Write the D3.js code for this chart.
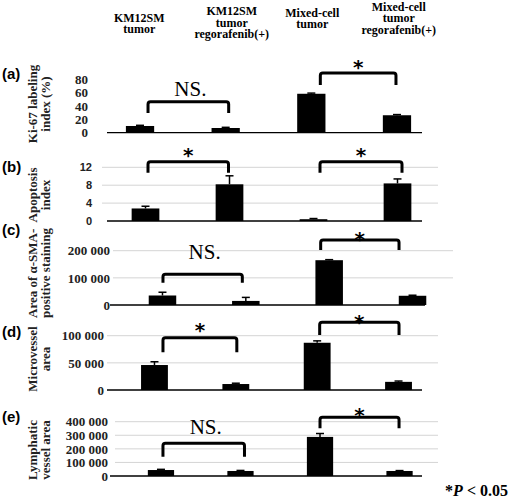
<!DOCTYPE html>
<html>
<head>
<meta charset="utf-8">
<script src="https://cdn.jsdelivr.net/npm/d3@7/dist/d3.min.js"></script>
<style>
  html, body { margin: 0; padding: 0; background: #fff; }
  svg { display: block; }
</style>
</head>
<body>
<svg id="chart" width="509" height="499"></svg>
<script>
// ---------------- DATA ----------------
const categories = ["KM12SM tumor", "KM12SM tumor regorafenib(+)", "Mixed-cell tumor", "Mixed-cell tumor regorafenib(+)"];
const categoryLines = [["KM12SM", "tumor"], ["KM12SM", "tumor", "regorafenib(+)"], ["Mixed-cell", "tumor"], ["Mixed-cell", "tumor", "regorafenib(+)"]];

const ki67Values = [10, 7, 58, 26];
const ki67Errors = [1, 1, 1, 1];
const apoptosisValues = [2.8, 8.2, 0.4, 8.4];
const apoptosisErrors = [0.5, 1.9, 0.15, 1.0];
const smaValues = [35000, 15000, 165000, 34000];
const smaErrors = [12000, 13000, 2000, 2000];
const microvesselValues = [46000, 11000, 87000, 15000];
const microvesselErrors = [6000, 1500, 3500, 1500];
const lymphaticValues = [44000, 37000, 288000, 37000];
const lymphaticErrors = [5000, 4000, 25000, 3000];

const ki67Ticks = [0, 20, 40, 60, 80];
const apoptosisTicks = [0, 4, 8, 12];
const smaTicks = [0, 100000, 200000];
const microvesselTicks = [0, 50000, 100000];
const lymphaticTicks = [0, 100000, 200000, 300000, 400000];

const panelLetters = ["(a)", "(b)", "(c)", "(d)", "(e)"];
const panelTitles = [
  ["Ki-67 labeling", "index (%)"],
  ["Apoptosis", "index"],
  ["Area of \u03b1-SMA-", "positive staining"],
  ["Microvessel", "area"],
  ["Lymphatic", "vessel area"]
];
const comparisons = [
  ["NS.", "*"],
  ["*", "*"],
  ["NS.", "*"],
  ["*", "*"],
  ["NS.", "*"]
];
const footnote = "P < 0.05";

// ---------------- LAYOUT ----------------
const svg = d3.select("#chart");
const fmt = d3.formatLocale({ decimal: ".", thousands: " ", grouping: [3], currency: ["", ""] }).format(",d");
const SERIF = "'Liberation Serif', 'Times New Roman', serif";
const SANS = "'Liberation Sans', Arial, sans-serif";

const panels = [
  { values: ki67Values, errors: ki67Errors, ticks: ki67Ticks,
    yPx: [132.7, 79], xRange: [97.2, 439.8], tickFont: SERIF, tickSize: 13, tickRight: 88,
    grid: null, axis: [107, 422], letterY: 79, titleCy: 104,
    brackets: [ { pair: [0, 1], dx: [8, 3], top: 101.7, leg: 113, labelY: 96 },
                { pair: [2, 3], dx: [9, -1], top: 73, leg: 85, labelY: 62 } ] },
  { values: apoptosisValues, errors: apoptosisErrors, ticks: apoptosisTicks,
    yPx: [221, 167.3], xRange: [103.5, 439.5], tickFont: SANS, tickSize: 11, tickRight: 92,
    grid: [102, 438], axis: [107, 422], letterY: 172, titleCy: 195,
    brackets: [ { pair: [0, 1], dx: [2.5, -1], top: 161.7, leg: 172.7, labelY: 150 },
                { pair: [2, 3], dx: [6.5, 4.5], top: 161.7, leg: 172.7, labelY: 150 } ] },
  { values: smaValues, errors: smaErrors, ticks: smaTicks,
    yPx: [305, 250.7], xRange: [120.8, 454.2], tickFont: SERIF, tickSize: 13, tickRight: 110,
    grid: [113, 453], axis: [110, 425], letterY: 235, titleCy: null, titleBottom: 318, clipTop: 226,
    brackets: [ { pair: [0, 1], dx: [0.5, -3.5], top: 274.3, leg: 282.7, labelY: 259 },
                { pair: [2, 3], dx: [-8.5, -13.5], top: 240, leg: 250, labelY: 234 } ] },
  { values: microvesselValues, errors: microvesselErrors, ticks: microvesselTicks,
    yPx: [390, 335.7], xRange: [113.8, 439.2], tickFont: SERIF, tickSize: 13, tickRight: 104,
    grid: [107, 438], axis: [107, 422], letterY: 337, titleCy: 359,
    brackets: [ { pair: [0, 1], dx: [8.5, 1], top: 337.7, leg: 352.3, labelY: 325 },
                { pair: [2, 3], dx: [2.5, 0.5], top: 322.3, leg: 335, labelY: 317 } ] },
  { values: lymphaticValues, errors: lymphaticErrors, ticks: lymphaticTicks,
    yPx: [476, 421.7], xRange: [121.2, 439.3], tickFont: SERIF, tickSize: 13, tickRight: 108,
    grid: [115, 438], axis: [110, 422], letterY: 422, titleCy: 450,
    brackets: [ { pair: [0, 1], dx: [2, 4], top: 443.3, leg: 456.7, labelY: 434 },
                { pair: [2, 3], dx: [0, -0.5], top: 417.3, leg: 428.3, labelY: 410 } ] }
];

// ---------------- HEADER ----------------
const headerX = d3.scaleBand().domain(categories).range([96, 442]);
const headerDx = [0, 6, 0, 0];
const headerBaselines = [[21.8, 33.2], [15.2, 26.7, 38], [16.7, 28.3], [11, 22.3, 33.5]];
categories.forEach((c, i) => {
  categoryLines[i].forEach((ln, j) => {
    svg.append("text")
      .attr("text-anchor", "middle")
      .attr("font-family", SERIF).attr("font-weight", "bold").attr("font-size", 12)
      .attr("fill", "#000")
      .attr("x", headerX(c) + headerX.bandwidth() / 2 + headerDx[i])
      .attr("y", headerBaselines[i][j])
      .text(ln);
  });
});

// ---------------- PANELS ----------------
panels.forEach((p, pi) => {
  const g = svg.append("g");
  const x = d3.scaleBand().domain(categories).range(p.xRange).paddingInner(0.67).paddingOuter(0.335);
  const ticks = p.ticks;
  const y = d3.scaleLinear().domain([ticks[0], ticks[ticks.length - 1]]).range(p.yPx);

  // gridlines
  if (p.grid) {
    g.selectAll("line.grid").data(ticks.slice(1)).enter().append("line")
      .attr("x1", p.grid[0]).attr("x2", p.grid[1])
      .attr("y1", d => y(d)).attr("y2", d => y(d))
      .attr("stroke", "#d4d4d4").attr("stroke-width", 1);
  }

  // y axis tick labels via d3 axis
  const axisG = g.append("g").attr("transform", `translate(${p.tickRight + 3},0)`)
    .call(d3.axisLeft(y).tickValues(ticks).tickFormat(d => fmt(d)).tickSize(0).tickPadding(3));
  axisG.select(".domain").remove();
  axisG.selectAll("text")
    .attr("font-family", p.tickFont).attr("font-weight", "bold").attr("font-size", p.tickSize)
    .attr("fill", "#222");

  // bars
  g.selectAll("rect.bar").data(p.values).enter().append("rect")
    .attr("x", (d, i) => x(categories[i]))
    .attr("width", x.bandwidth())
    .attr("y", d => y(d))
    .attr("height", d => y(0) - y(d))
    .attr("fill", "#000");

  // error bars
  const cap = 4;
  p.values.forEach((v, i) => {
    const cx = x(categories[i]) + x.bandwidth() / 2;
    const yt = y(v + p.errors[i]);
    g.append("line").attr("x1", cx).attr("x2", cx).attr("y1", y(v)).attr("y2", yt)
      .attr("stroke", "#000").attr("stroke-width", 1.5);
    g.append("line").attr("x1", cx - cap).attr("x2", cx + cap).attr("y1", yt).attr("y2", yt)
      .attr("stroke", "#000").attr("stroke-width", 1.5);
  });

  // baseline
  g.append("line").attr("x1", p.axis[0]).attr("x2", p.axis[1])
    .attr("y1", y(0)).attr("y2", y(0)).attr("stroke", "#000").attr("stroke-width", 1.3);

  // brackets
  p.brackets.forEach((b, k) => {
    const xa = x(categories[b.pair[0]]) + x.bandwidth() / 2 + b.dx[0];
    const xb = x(categories[b.pair[1]]) + x.bandwidth() / 2 + b.dx[1];
    const r = 2.5;
    const path = `M${xa},${b.leg} L${xa},${b.top + r} Q${xa},${b.top} ${xa + r},${b.top} L${xb - r},${b.top} Q${xb},${b.top} ${xb},${b.top + r} L${xb},${b.leg}`;
    g.append("path").attr("d", path).attr("fill", "none").attr("stroke", "#000").attr("stroke-width", 3);
    const lab = comparisons[pi][k];
    const cx = (xa + xb) / 2;
    if (lab === "*") {
      g.append("text").attr("x", cx).attr("y", b.labelY + 11.5)
        .attr("text-anchor", "middle")
        .attr("font-family", "'DejaVu Sans', sans-serif").attr("font-weight", "bold").attr("font-size", 20)
        .attr("fill", "#000").text(lab);
    } else {
      g.append("text").attr("x", cx + 2).attr("y", b.labelY)
        .attr("text-anchor", "middle")
        .attr("font-family", SERIF).attr("font-size", 21)
        .attr("fill", "#000").text(lab);
    }
  });

  // panel letter
  svg.append("text").attr("x", 2).attr("y", p.letterY)
    .attr("font-family", SANS).attr("font-weight", "bold").attr("font-size", 15)
    .attr("fill", "#000").text(panelLetters[pi]);

  // y titles (rotated)
  let titleG = svg.append("g");
  if (p.clipTop != null) {
    const id = "clip" + pi;
    svg.append("clipPath").attr("id", id).append("rect")
      .attr("x", 0).attr("y", p.clipTop).attr("width", 80).attr("height", 120);
    titleG.attr("clip-path", `url(#${id})`);
  }
  const titleXs = [37, 50];
  panelTitles[pi].forEach((ln, j) => {
    const t = titleG.append("text")
      .attr("font-family", SERIF).attr("font-weight", "bold").attr("font-size", 13)
      .attr("fill", "#222");
    if (p.titleCy != null) {
      t.attr("text-anchor", "middle")
        .attr("transform", `translate(${titleXs[j]},${p.titleCy}) rotate(-90)`);
    } else {
      t.attr("text-anchor", "start")
        .attr("transform", `translate(${titleXs[j]},${p.titleBottom}) rotate(-90)`);
    }
    t.text(ln);
  });
});

// ---------------- FOOTNOTE ----------------
const fn = svg.append("text").attr("x", 508).attr("y", 496).attr("text-anchor", "end")
  .attr("font-family", SERIF).attr("font-weight", "bold").attr("font-size", 16).attr("fill", "#000");
fn.append("tspan").text("*");
fn.append("tspan").attr("font-style", "italic").text(footnote.split(" ")[0]);
fn.append("tspan").text(" " + footnote.split(" ").slice(1).join(" "));
</script>
</body>
</html>
